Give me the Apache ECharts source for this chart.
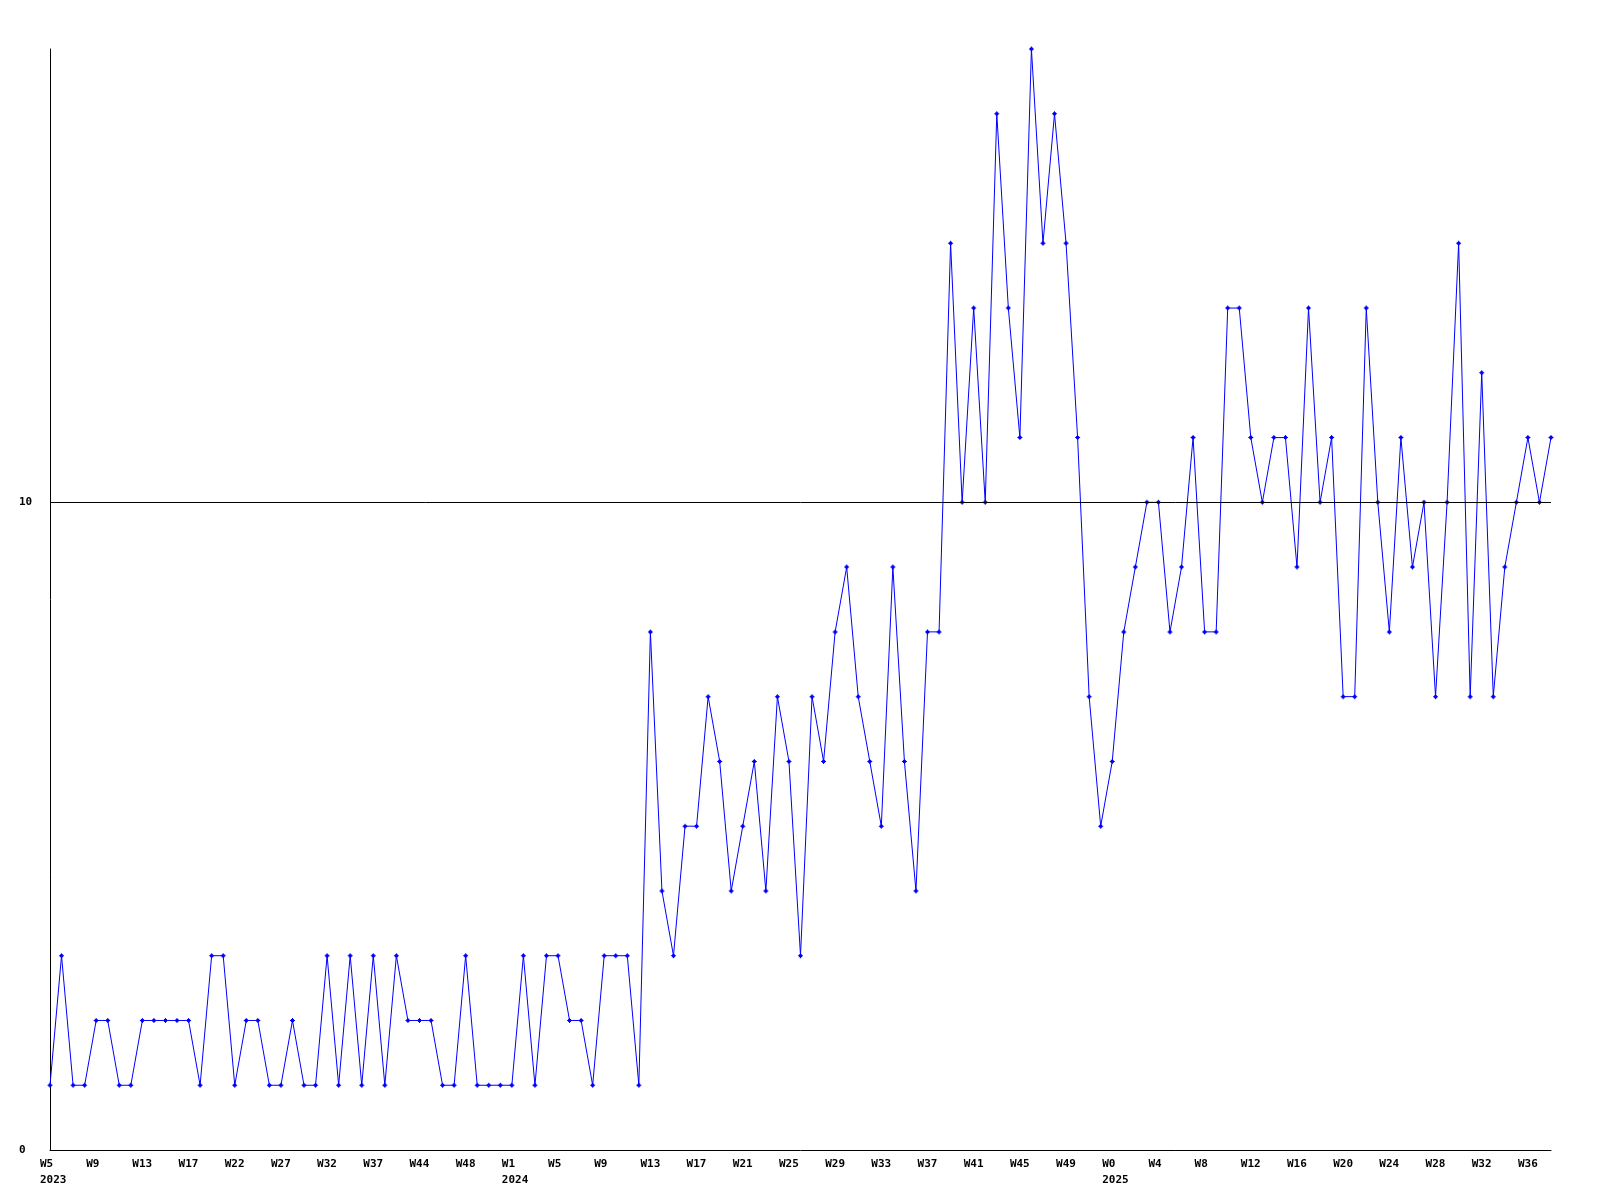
<!DOCTYPE html>
<html>
<head>
<meta charset="utf-8">
<script src="https://cdn.jsdelivr.net/npm/echarts@6/dist/echarts.min.js"></script>
<style>html,body{margin:0;padding:0;background:#fff}#c{width:1600px;height:1200px}</style>
</head>
<body>
<div id="c"></div>
<script>
// Week numbers per year (categories of the x axis)
const weeks2023 = [5,6,7,8,9,10,11,12,13,14,15,16,17,18,19,20,22,23,24,25,27,28,29,30,32,33,34,35,37,38,40,42,44,45,46,47,48,49,50,51];
const weeks2024 = [1,2,3,4,5,6,7,8,9,10,11,12,13,14,15,16,17,18,19,20,21,22,23,24,25,26,27,28,29,30,31,32,33,34,35,36,37,38,39,40,41,42,43,44,45,46,47,48,49,50,51,52];
const weeks2025 = [0,1,2,3,4,5,6,7,8,9,10,11,12,13,14,15,16,17,18,19,20,21,22,23,24,25,26,27,28,29,30,31,32,33,34,35,36,37,38];
const years = [2023, 2024, 2025];

// Weekly values
const values = [
  1,3,1,1,2,2,1,1,2,2,
  2,2,2,1,3,3,1,2,2,1,
  1,2,1,1,3,1,3,1,3,1,
  3,2,2,2,1,1,3,1,1,1,
  1,3,1,3,3,2,2,1,3,3,
  3,1,8,4,3,5,5,7,6,4,
  5,6,4,7,6,3,7,6,8,9,
  7,6,5,9,6,4,8,8,14,10,
  13,10,16,13,11,17,14,16,14,11,
  7,5,6,8,9,10,10,8,9,11,
  8,8,13,13,11,10,11,11,9,13,
  10,11,7,7,13,10,8,11,9,10,
  7,10,14,7,12,7,9,10,11,10,
  11
];

const yTicks = [0, 10];
const refLine = 10;

// build categories
const weekLists = [weeks2023, weeks2024, weeks2025];
const categories = [];
const yearStart = {};
weekLists.forEach((wl, yi) => {
  wl.forEach((w, k) => {
    const name = years[yi] + '-W' + w;
    if (k === 0) yearStart[categories.length] = years[yi];
    categories.push(name);
  });
});

const chart = echarts.init(document.getElementById('c'), null, {renderer: 'canvas'});
const font = 'DejaVu Sans Mono';
chart.setOption({
  animation: false,
  backgroundColor: '#ffffff',
  grid: {left: 50, right: 49, top: 49, bottom: 50, containLabel: false},
  xAxis: {
    type: 'category',
    data: categories,
    boundaryGap: false,
    axisLine: {show: true, lineStyle: {color: '#000', width: 1}},
    axisTick: {show: false},
    splitLine: {show: false},
    axisLabel: {
      interval: 3,
      margin: 6,
      align: 'left',
      padding: [0, 0, 0, -10],
      color: '#000',
      fontFamily: font,
      fontWeight: 'bold',
      fontSize: 11,
      lineHeight: 16,
      formatter: function (v, idx) {
        const w = v.split('-')[1];
        return yearStart[idx] !== undefined ? w + '\n' + yearStart[idx] : w;
      }
    }
  },
  yAxis: {
    type: 'value',
    min: yTicks[0],
    max: 17,
    interval: yTicks[1] - yTicks[0],
    axisLine: {show: true, lineStyle: {color: '#000', width: 1}},
    axisTick: {show: false},
    splitLine: {show: false},
    axisLabel: {
      showMaxLabel: false,
      margin: 31,
      align: 'left',
      color: '#000',
      fontFamily: font,
      fontWeight: 'bold',
      fontSize: 11
    }
  },
  series: [{
    type: 'line',
    data: values,
    symbol: 'path://M2,0h1v1h1v1h1v1h-1v1h-1v1h-1v-1h-1v-1h-1v-1h1v-1h1z',
    symbolSize: 5,
    showAllSymbol: true,
    clip: false,
    lineStyle: {color: '#0000ff', width: 1},
    itemStyle: {color: '#0000ff'},
    markLine: {
      silent: true,
      symbol: 'none',
      label: {show: false},
      lineStyle: {color: '#000', width: 1, type: 'solid'},
      data: [{yAxis: refLine}]
    }
  }]
});
</script>
</body>
</html>
